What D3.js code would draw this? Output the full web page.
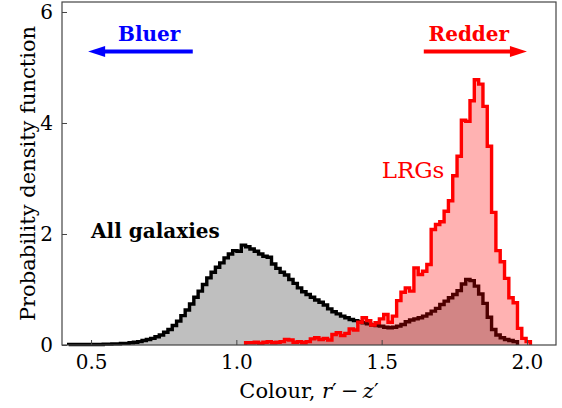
<!DOCTYPE html>
<html>
<head>
<meta charset="utf-8">
<script src="https://cdn.jsdelivr.net/npm/d3@7"></script>
<style>
  body { margin: 0; background: #fff; }
  text { font-family: "DejaVu Serif", serif; }
</style>
</head>
<body>
<div id="chart"></div>
<script>
// histogram bins: first edge and width (colour r' - z')
var binStart = 0.423;
var binWidth = 0.01485;

// all galaxies, probability density per bin
var allGalaxies = [
  0.01, 0.01, 0.01, 0.01, 0.01, 0.01, 0.01, 0.01, 0.015, 0.015,
  0.02, 0.02, 0.03, 0.03, 0.04, 0.05, 0.06, 0.08, 0.10, 0.12,
  0.15, 0.18, 0.23, 0.28, 0.35, 0.43, 0.53, 0.63, 0.74, 0.86,
  0.97, 1.09, 1.21, 1.31, 1.40, 1.48, 1.57, 1.64, 1.70, 1.69,
  1.80, 1.77, 1.73, 1.69, 1.64, 1.60, 1.58, 1.46, 1.38, 1.31,
  1.26, 1.18, 1.11, 1.03, 0.96, 0.91, 0.86, 0.81, 0.77, 0.72,
  0.65, 0.60, 0.56, 0.52, 0.49, 0.46, 0.44, 0.42, 0.40, 0.38,
  0.36, 0.35, 0.34, 0.32, 0.31, 0.32, 0.34, 0.37, 0.42, 0.45,
  0.47, 0.49, 0.52, 0.56, 0.61, 0.66, 0.73, 0.79, 0.85, 0.91,
  0.98, 1.10, 1.18, 1.16, 1.06, 0.92, 0.75, 0.50, 0.28, 0.18,
  0.13, 0.10, 0.08, 0.06, 0, 0, 0, 0
];

// LRGs, probability density per bin
var lrgs = [
  0, 0, 0, 0, 0, 0, 0, 0, 0, 0,
  0, 0, 0, 0, 0, 0, 0, 0, 0, 0,
  0, 0, 0, 0, 0, 0, 0, 0, 0, 0,
  0, 0, 0, 0, 0, 0, 0, 0, 0, 0,
  0, 0.04, 0.04, 0.05, 0.03, 0.05, 0.06, 0.04, 0.05, 0.06,
  0.10, 0.09, 0.05, 0.06, 0.04, 0.06, 0.11, 0.13, 0.10, 0.12,
  0.09, 0.19, 0.22, 0.17, 0.21, 0.29, 0.27, 0.41, 0.49, 0.44,
  0.36, 0.40, 0.47, 0.55, 0.41, 0.52, 0.80, 0.95, 1.03, 0.97,
  1.39, 1.27, 1.33, 1.45, 2.08, 2.17, 2.22, 2.41, 2.60, 3.05,
  3.40, 4.05, 4.03, 4.40, 4.78, 4.70, 4.30, 3.58, 2.39, 1.70,
  1.50, 1.20, 0.85, 0.76, 0.30, 0.12, 0.06, 0
];

var xTicks = [0.5, 1.0, 1.5, 2.0];
var yTicks = [0, 2, 4, 6];

// annotations in data units
var labelTexts = ["All galaxies", "LRGs"];
var labelPos = [[0.5, 1.93], [1.5, 3.0]];
var arrowTexts = ["Bluer", "Redder"];
var arrowFrom = [[0.85, 5.29], [1.645, 5.29]];
var arrowTo = [[0.49, 5.29], [2.0, 5.29]];
var arrowTextPos = [[0.70, 5.48], [1.80, 5.48]];

var margin = { top: 2, right: 6, bottom: 63, left: 62 },
  width = 562 - margin.left - margin.right,
  height = 408 - margin.top - margin.bottom;

var x = d3.scaleLinear().domain([0.4, 2.1]).range([0, width]);
var y = d3.scaleLinear().domain([0, 6.18]).range([height, 0]);

var svg = d3.select("#chart").append("svg")
  .attr("width", 562)
  .attr("height", 408)
  .append("g")
    .attr("transform", "translate(" + margin.left + "," + margin.top + ")");

// turn a bin array into step points, skipping empty bins at both ends
var toSteps = function(vals) {
  var first = vals.findIndex(function(v) { return v > 0; });
  var last = vals.length - 1;
  while (last > 0 && vals[last] === 0) last--;
  var pts = [{ x: binStart + first * binWidth, y: 0 }];
  for (var i = first; i <= last; i++) {
    pts.push({ x: binStart + i * binWidth, y: vals[i] });
    pts.push({ x: binStart + (i + 1) * binWidth, y: vals[i] });
  }
  pts.push({ x: binStart + (last + 1) * binWidth, y: 0 });
  return pts;
};

var line = d3.line()
  .x(function(d) { return x(d.x); })
  .y(function(d) { return y(d.y); });
var area = d3.area()
  .x(function(d) { return x(d.x); })
  .y0(y(0))
  .y1(function(d) { return y(d.y); });

var allSteps = toSteps(allGalaxies);
var lrgSteps = toSteps(lrgs);

svg.append("path").attr("d", area(allSteps)).attr("fill", "#bfbfbf");
svg.append("path").attr("d", line(allSteps))
  .attr("fill", "none").attr("stroke", "#000").attr("stroke-width", 3.4);
svg.append("path").attr("d", area(lrgSteps)).attr("fill", "red").attr("fill-opacity", 0.3);
svg.append("path").attr("d", line(lrgSteps))
  .attr("fill", "none").attr("stroke", "red").attr("stroke-width", 3.4);

// frame
svg.append("rect")
  .attr("width", width).attr("height", height)
  .attr("fill", "none").attr("stroke", "#444").attr("stroke-width", 1.2);

var xAxis = svg.append("g")
  .attr("transform", "translate(0," + height + ")")
  .call(d3.axisBottom(x).tickValues(xTicks).tickFormat(d3.format(".1f"))
    .tickSizeInner(-5).tickSizeOuter(0).tickPadding(10));
var yAxis = svg.append("g")
  .call(d3.axisLeft(y).tickValues(yTicks).tickFormat(d3.format("d"))
    .tickSizeInner(-5).tickSizeOuter(0).tickPadding(9));
[xAxis, yAxis].forEach(function(ax) {
  ax.select(".domain").remove();
  ax.selectAll("line").attr("stroke", "#444");
  ax.selectAll("text").attr("font-family", "DejaVu Serif").attr("font-size", 20).attr("fill", "#000");
});

svg.append("text")
  .attr("x", width / 2)
  .attr("y", height + 53)
  .attr("text-anchor", "middle")
  .attr("font-size", 21)
  .html("Colour, <tspan font-style='italic'>r</tspan>\u2032\u2009\u2212\u2009<tspan font-style='italic'>z</tspan>\u2032");

svg.append("text")
  .attr("transform", "rotate(-90)")
  .attr("x", -height / 2)
  .attr("y", -27)
  .attr("text-anchor", "middle")
  .attr("font-size", 21)
  .text("Probability density function");

// labels
svg.append("text")
  .attr("x", x(labelPos[0][0])).attr("y", y(labelPos[0][1]))
  .attr("font-size", 20).attr("font-weight", "bold").attr("fill", "#000")
  .text(labelTexts[0]);
svg.append("text")
  .attr("x", x(labelPos[1][0])).attr("y", y(labelPos[1][1]))
  .attr("font-size", 23).attr("fill", "red")
  .text(labelTexts[1]);

// arrows
var arrowColours = ["blue", "red"];
arrowTexts.forEach(function(t, i) {
  var x0 = x(arrowFrom[i][0]), x1 = x(arrowTo[i][0]), yy = y(arrowFrom[i][1]);
  var dir = x1 > x0 ? 1 : -1;
  var headLen = 17, headHalf = 5.5;
  svg.append("line")
    .attr("x1", x0).attr("y1", yy)
    .attr("x2", x1 - dir * headLen + dir).attr("y2", yy)
    .attr("stroke", arrowColours[i]).attr("stroke-width", 4);
  svg.append("path")
    .attr("d", "M" + x1 + "," + yy + "L" + (x1 - dir * headLen) + "," + (yy - headHalf) +
      "L" + (x1 - dir * headLen) + "," + (yy + headHalf) + "Z")
    .attr("fill", arrowColours[i]);
  svg.append("text")
    .attr("x", x(arrowTextPos[i][0])).attr("y", y(arrowTextPos[i][1]))
    .attr("text-anchor", "middle")
    .attr("font-size", 20).attr("font-weight", "bold").attr("fill", arrowColours[i])
    .text(t);
});
</script>
</body>
</html>
